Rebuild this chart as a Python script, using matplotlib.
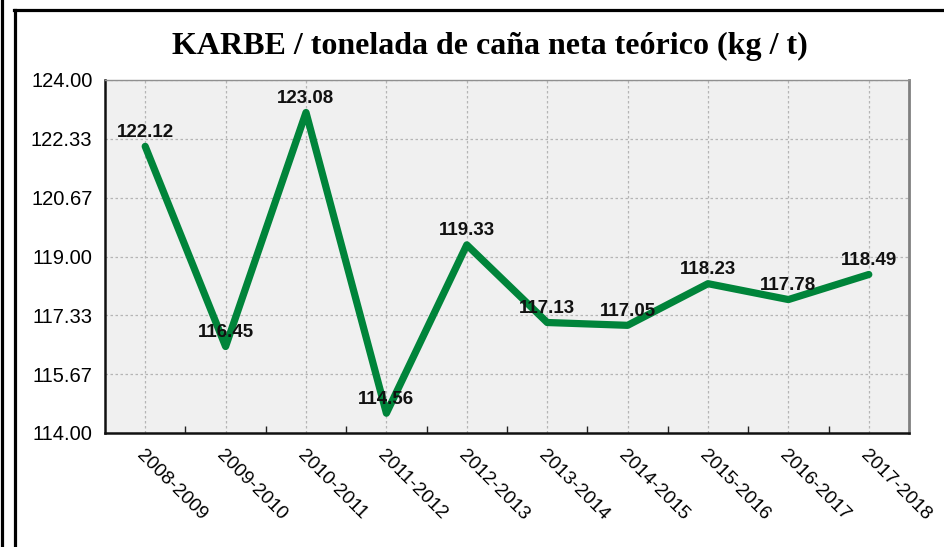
import matplotlib
matplotlib.use("Agg")
import matplotlib.pyplot as plt
from matplotlib.lines import Line2D

categories = ["2008-2009", "2009-2010", "2010-2011", "2011-2012", "2012-2013",
              "2013-2014", "2014-2015", "2015-2016", "2016-2017", "2017-2018"]
values = [122.12, 116.45, 123.08, 114.56, 119.33, 117.13, 117.05, 118.23, 117.78, 118.49]
yticks = [114.00, 115.67, 117.33, 119.00, 120.67, 122.33, 124.00]
title = "KARBE / tonelada de caña neta teórico (kg / t)"

W, H = 944, 547
fig = plt.figure(figsize=(W / 100, H / 100), dpi=100)
ax = fig.add_axes([105 / W, 1 - 433 / H, (909 - 105) / W, (433 - 80) / H])

x = list(range(len(categories)))
ax.plot(x, values, color="#00843a", lw=5.2, solid_joinstyle="round",
        solid_capstyle="round", zorder=3)
for xi, v in zip(x, values):
    ax.annotate(f"{v:.2f}", (xi, v), xytext=(0, 10), textcoords="offset points",
                ha="center", va="center", fontsize=13.5, fontweight="bold",
                family="Liberation Sans", color="#111111", zorder=4)

ax.set_xlim(-0.5, len(categories) - 0.5)
ax.set_ylim(114, 124)
ax.set_facecolor("#f0f0f0")

ax.set_yticks(yticks)
ax.set_yticklabels([f"{t:.2f}" for t in yticks], family="Liberation Sans", fontsize=14.5)
ax.tick_params(axis="y", length=0, pad=9)

ax.set_xticks(x)
ax.set_xticklabels(categories, rotation=-45, ha="left", va="top", rotation_mode="anchor",
                   family="Liberation Sans", fontsize=13.8)
ax.tick_params(axis="x", length=0, pad=10)
ax.set_xticks([i + 0.5 for i in x[:-1]], minor=True)
ax.tick_params(axis="x", which="minor", direction="in", length=5, width=1, color="#222222")

ax.grid(True, which="major", color="#b5b5b5", ls=(0, (2, 2)), lw=0.9)
for s in ["left", "bottom"]:
    ax.spines[s].set_color("#111111")
    ax.spines[s].set_linewidth(1.8)
ax.spines["right"].set_color("#808080")
ax.spines["right"].set_linewidth(2)
ax.spines["top"].set_color("#909090")
ax.spines["top"].set_linewidth(1)
ax.spines["top"].set_linestyle((0, (1, 1)))

fig.text(490 / W, 1 - 46 / H, title, ha="center", va="center",
         family="Liberation Serif", fontweight="bold", fontsize=23)

# outer frame
fig.add_artist(Line2D([1.5 / W, 1.5 / W], [0, 1], transform=fig.transFigure, color="black", lw=2.3))
fig.add_artist(Line2D([15 / W, 15 / W], [0, 1 - 9.5 / H], transform=fig.transFigure, color="black", lw=2.3))
fig.add_artist(Line2D([14 / W, 1], [1 - 9.5 / H, 1 - 9.5 / H], transform=fig.transFigure, color="black", lw=2.3))

fig.savefig("out.png", dpi=100)
